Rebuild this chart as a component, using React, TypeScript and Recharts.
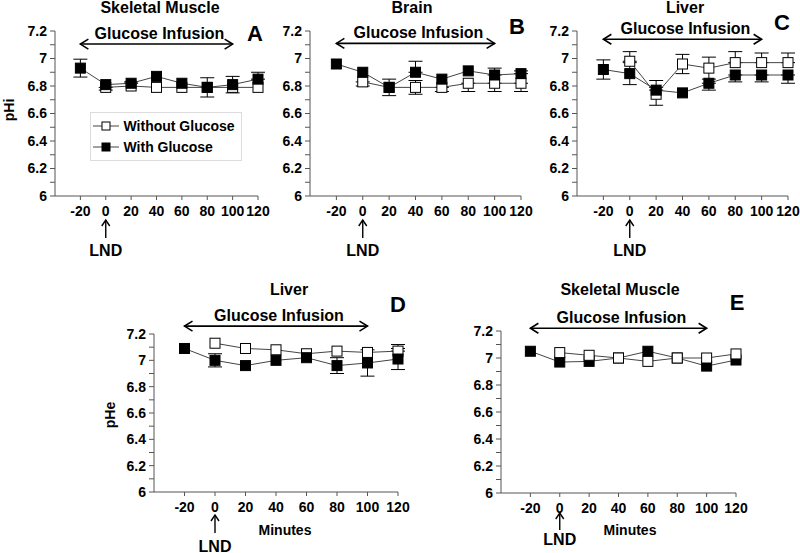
import React from 'react';
import { LineChart, Line, XAxis, YAxis, ErrorBar, ReferenceLine, Legend } from 'recharts';

const minutes = [-20, 0, 20, 40, 60, 80, 100, 120];
const xTicks = [-20, 0, 20, 40, 60, 80, 100, 120];
const yTicks = [6, 6.1, 6.2, 6.3, 6.4, 6.5, 6.6, 6.7, 6.8, 6.9, 7, 7.1, 7.2];

type Err = [number, number] | null;

// A - skeletal muscle pHi
const muscleIWith = [6.93, 6.81, 6.82, 6.87, 6.82, 6.79, 6.81, 6.85];
const muscleIWithErr: Err[] = [[0.065, 0.065], null, [0, 0.01], null, null, [0.07, 0.07], [0.06, 0.06], [0, 0.05]];
const muscleIWithout = [6.79, 6.8, 6.79, 6.79, 6.79, 6.79, 6.79];
const muscleIWithoutErr: Err[] = [[0.02, 0], null, null, null, null, null, null];

// B - brain pHi
const brainWith = [6.96, 6.9, 6.79, 6.9, 6.85, 6.91, 6.88, 6.89];
const brainWithErr: Err[] = [null, null, null, [0, 0.08], null, null, [0, 0.05], [0, 0.02]];
const brainWithout = [6.83, 6.79, 6.79, 6.79, 6.82, 6.82, 6.82];
const brainWithoutErr: Err[] = [[0.03, 0], [0.06, 0.06], [0.05, 0.05], [0.03, 0], [0.06, 0], [0.06, 0], [0.06, 0]];

// C - liver pHi
const liverIWith = [6.92, 6.89, 6.77, 6.75, 6.82, 6.88, 6.88, 6.88];
const liverIWithErr: Err[] = [[0.07, 0.07], [0.08, 0.08], [0, 0.07], null, [0.05, 0], [0.05, 0], [0.05, 0], [0.06, 0]];
const liverIWithout = [6.98, 6.74, 6.96, 6.93, 6.97, 6.97, 6.97];
const liverIWithoutErr: Err[] = [[0, 0.07], [0.08, 0.05], [0.07, 0.07], [0.08, 0.08], [0, 0.08], [0, 0.07], [0, 0.07]];

// D - liver pHe
const liverEWith = [7.09, 7.0, 6.96, 7.0, 7.02, 6.96, 6.98, 7.01];
const liverEWithErr: Err[] = [null, [0.05, 0.05], null, null, null, [0.06, 0.06], [0.1, 0.1], [0.08, 0.08]];
const liverEWithout = [7.13, 7.09, 7.08, 7.05, 7.07, 7.06, 7.07];
const liverEWithoutErr: Err[] = [null, null, null, null, null, null, [0, 0.05]];

// E - skeletal muscle pHe
const muscleEWith = [7.05, 6.97, 6.975, 7.0, 7.05, 7.0, 6.94, 6.985];
const muscleEWithout = [7.04, 7.02, 7.0, 6.975, 7.0, 7.0, 7.03];

const WITHOUT = 'Without Glucose';
const WITH = 'With Glucose';
const legendOrder = [WITHOUT, WITH];
const FONT = '"Liberation Sans", Arial, sans-serif';

type Panel = {
  key: string;
  withVals: number[];
  withErr?: Err[];
  withoutVals: number[];
  withoutErr?: Err[];
  chartLeft: number;
  chartTop: number;
  width: number;
  height: number;
  margin: { top: number; right: number; bottom: number; left: number };
  arrowY: number;
  lnd: [number, number, number];
  openOnTop?: boolean;
  legend?: boolean;
};

const panels: Panel[] = [
  {
    key: 'A',
    withVals: muscleIWith, withErr: muscleIWithErr, withoutVals: muscleIWithout, withoutErr: muscleIWithoutErr,
    chartLeft: 14.5, chartTop: 0, width: 259, height: 265,
    margin: { top: 31, right: 16, bottom: 39, left: 0 }, arrowY: 7.105, lnd: [24, 42, 54], legend: true,
  },
  {
    key: 'B',
    withVals: brainWith, withErr: brainWithErr, withoutVals: brainWithout, withoutErr: brainWithoutErr,
    chartLeft: 270, chartTop: 0, width: 267, height: 265,
    margin: { top: 31, right: 16, bottom: 39, left: 0 }, arrowY: 7.11, lnd: [24, 42, 54],
  },
  {
    key: 'C',
    withVals: liverIWith, withErr: liverIWithErr, withoutVals: liverIWithout, withoutErr: liverIWithoutErr,
    chartLeft: 537, chartTop: 0, width: 267, height: 265,
    margin: { top: 31, right: 16, bottom: 39, left: 0 }, arrowY: 7.14, lnd: [24, 42, 54],
  },
  {
    key: 'D',
    withVals: liverEWith, withErr: liverEWithErr, withoutVals: liverEWithout, withoutErr: liverEWithoutErr,
    chartLeft: 114, chartTop: 280, width: 300, height: 273,
    margin: { top: 54, right: 16, bottom: 31, left: 0 }, arrowY: 7.26, lnd: [23, 41, 54],
  },
  {
    key: 'E',
    withVals: muscleEWith, withoutVals: muscleEWithout,
    chartLeft: 461, chartTop: 280, width: 291, height: 273,
    margin: { top: 51, right: 16, bottom: 30, left: 0 }, arrowY: 7.22, lnd: [20, 37, 46], openOnTop: true,
  },
];

const square = (fill: string, size: number) => (props: any) => {
  const { cx, cy, key } = props;
  if (cx == null || cy == null) return <g key={key} />;
  return (
    <rect key={key} x={cx - size / 2} y={cy - size / 2} width={size} height={size}
      fill={fill} stroke="#000" strokeWidth={1} />
  );
};

const infusionArrow = (props: any) => {
  const { x1, x2, y1 } = props;
  if (x1 == null || x2 == null) return <g />;
  const mid = (x1 + x2) / 2 + 3;
  return (
    <g>
      <line x1={x1} y1={y1} x2={x2} y2={y1} stroke="#000" strokeWidth={1.6} />
      <polyline points={`${x1 + 8},${y1 - 5} ${x1},${y1} ${x1 + 8},${y1 + 5}`} fill="none" stroke="#000" strokeWidth={1.6} />
      <polyline points={`${x2 - 8},${y1 - 5} ${x2},${y1} ${x2 - 8},${y1 + 5}`} fill="none" stroke="#000" strokeWidth={1.6} />
      <text x={mid} y={y1 - 11} textAnchor="middle" dominantBaseline="central"
        fontFamily={FONT} fontWeight="bold" fontSize={16} fill="#000">Glucose Infusion</text>
    </g>
  );
};

const lndArrow = (offsets: [number, number, number]) => (props: any) => {
  const { x1, y1 } = props;
  if (x1 == null) return <g />;
  const [a, b, t] = offsets;
  return (
    <g>
      <line x1={x1} y1={y1 + a} x2={x1} y2={y1 + b} stroke="#000" strokeWidth={1.4} />
      <polyline points={`${x1 - 4},${y1 + a + 6} ${x1},${y1 + a} ${x1 + 4},${y1 + a + 6}`} fill="none" stroke="#000" strokeWidth={1.4} />
      <text x={x1} y={y1 + t} textAnchor="middle" dominantBaseline="central"
        fontFamily={FONT} fontWeight="bold" fontSize={16} fill="#000">LND</text>
    </g>
  );
};

const legendContent = (props: any) => {
  const items = ([...(props.payload || [])] as any[]).sort(
    (a, b) => legendOrder.indexOf(a.value) - legendOrder.indexOf(b.value),
  );
  return (
    <div style={{ border: '1px solid #dcdcdc', padding: '2px 6px 3px 2px', background: '#fff', fontFamily: FONT }}>
      {items.map((it) => (
        <div key={it.value} style={{ display: 'flex', alignItems: 'center', height: 21 }}>
          <svg width={28} height={12} style={{ marginRight: 3 }}>
            <line x1={0} y1={6} x2={26} y2={6} stroke="#444" strokeWidth={1} />
            <rect x={9} y={2} width={8} height={8} fill={it.value === WITH ? '#000' : '#fff'} stroke="#000" strokeWidth={1} />
          </svg>
          <span style={{ fontSize: 14, fontWeight: 'bold', color: '#000' }}>{it.value}</span>
        </div>
      ))}
    </div>
  );
};

const tickStyle = { fontSize: 14, fontWeight: 'bold', fill: '#000', fontFamily: FONT };

function PanelChart({ p }: { p: Panel }) {
  const withRows = minutes.map((m, i) => ({ x: m, y: p.withVals[i], err: p.withErr ? p.withErr[i] : null }));
  const withoutRows = minutes.slice(1).map((m, i) => ({ x: m, y: p.withoutVals[i], err: p.withoutErr ? p.withoutErr[i] : null }));

  const openLine = (
    <Line key="open" data={withoutRows} dataKey="y" name={WITHOUT} stroke="#444" strokeWidth={1}
      dot={square('#fff', 10)} activeDot={false} isAnimationActive={false}>
      {p.withoutErr && <ErrorBar dataKey="err" width={7} stroke="#000" strokeWidth={1} direction="y" isAnimationActive={false} />}
    </Line>
  );
  const filledLine = (
    <Line key="filled" data={withRows} dataKey="y" name={WITH} stroke="#444" strokeWidth={1}
      dot={square('#000', 10)} activeDot={false} isAnimationActive={false}>
      {p.withErr && <ErrorBar dataKey="err" width={7} stroke="#000" strokeWidth={1} direction="y" isAnimationActive={false} />}
    </Line>
  );

  return (
    <div style={{ position: 'absolute', left: p.chartLeft, top: p.chartTop }}>
      <LineChart width={p.width} height={p.height} margin={p.margin}>
        <XAxis type="number" dataKey="x" domain={[-40, 120]} ticks={xTicks} interval={0}
          tick={tickStyle} tickSize={4} tickMargin={6} height={30}
          axisLine={{ stroke: '#555' }} tickLine={{ stroke: '#555' }} />
        <YAxis type="number" domain={[6, 7.2]} ticks={yTicks} interval={0} width={40}
          tick={tickStyle} tickSize={5} tickMargin={3}
          tickFormatter={(v: number) => (Math.round(v * 10) % 2 ? '' : String(Number(v.toFixed(1))))}
          axisLine={{ stroke: '#555' }} tickLine={{ stroke: '#555' }} />
        <ReferenceLine segment={[{ x: -20, y: p.arrowY }, { x: 100, y: p.arrowY }]}
          ifOverflow="visible" shape={infusionArrow} />
        <ReferenceLine segment={[{ x: 0, y: 6 }, { x: 0, y: 6 }]} ifOverflow="visible" shape={lndArrow(p.lnd)} />
        {p.openOnTop ? [filledLine, openLine] : [openLine, filledLine]}
        {p.legend && (
          <Legend layout="vertical" align="center" verticalAlign="middle" content={legendContent}
            wrapperStyle={{ left: 75, top: 112, width: 'auto', height: 'auto' }} />
        )}
      </LineChart>
    </div>
  );
}

const textBase: React.CSSProperties = {
  position: 'absolute', fontFamily: FONT, fontWeight: 'bold', color: '#000', whiteSpace: 'nowrap',
  transform: 'translate(-50%, -50%)', lineHeight: 1,
};

const labels = [
  { text: 'Skeletal Muscle', x: 160, y: 8, size: 16 },
  { text: 'Brain', x: 412, y: 8, size: 16 },
  { text: 'Liver', x: 685, y: 8, size: 16 },
  { text: 'Liver', x: 289, y: 290, size: 16 },
  { text: 'Skeletal Muscle', x: 620, y: 290, size: 16 },
  { text: 'A', x: 255, y: 34, size: 22 },
  { text: 'B', x: 517, y: 27, size: 22 },
  { text: 'C', x: 782, y: 23, size: 22 },
  { text: 'D', x: 398, y: 305, size: 22 },
  { text: 'E', x: 737, y: 303, size: 22 },
  { text: 'Minutes', x: 285, y: 530, size: 14 },
  { text: 'Minutes', x: 630, y: 530, size: 14 },
];

export default function App() {
  return (
    <div style={{ position: 'absolute', left: 0, top: 0, width: 800, height: 553, background: '#fff', overflow: 'hidden' }}>
      {panels.map((p) => <PanelChart key={p.key} p={p} />)}
      {labels.map((l, i) => (
        <div key={i} style={{ ...textBase, left: l.x, top: l.y, fontSize: l.size }}>{l.text}</div>
      ))}
      <div style={{ ...textBase, left: 9, top: 110, fontSize: 14, transform: 'translate(-50%, -50%) rotate(-90deg)' }}>pHi</div>
      <div style={{ ...textBase, left: 110, top: 415, fontSize: 14, transform: 'translate(-50%, -50%) rotate(-90deg)' }}>pHe</div>
    </div>
  );
}
